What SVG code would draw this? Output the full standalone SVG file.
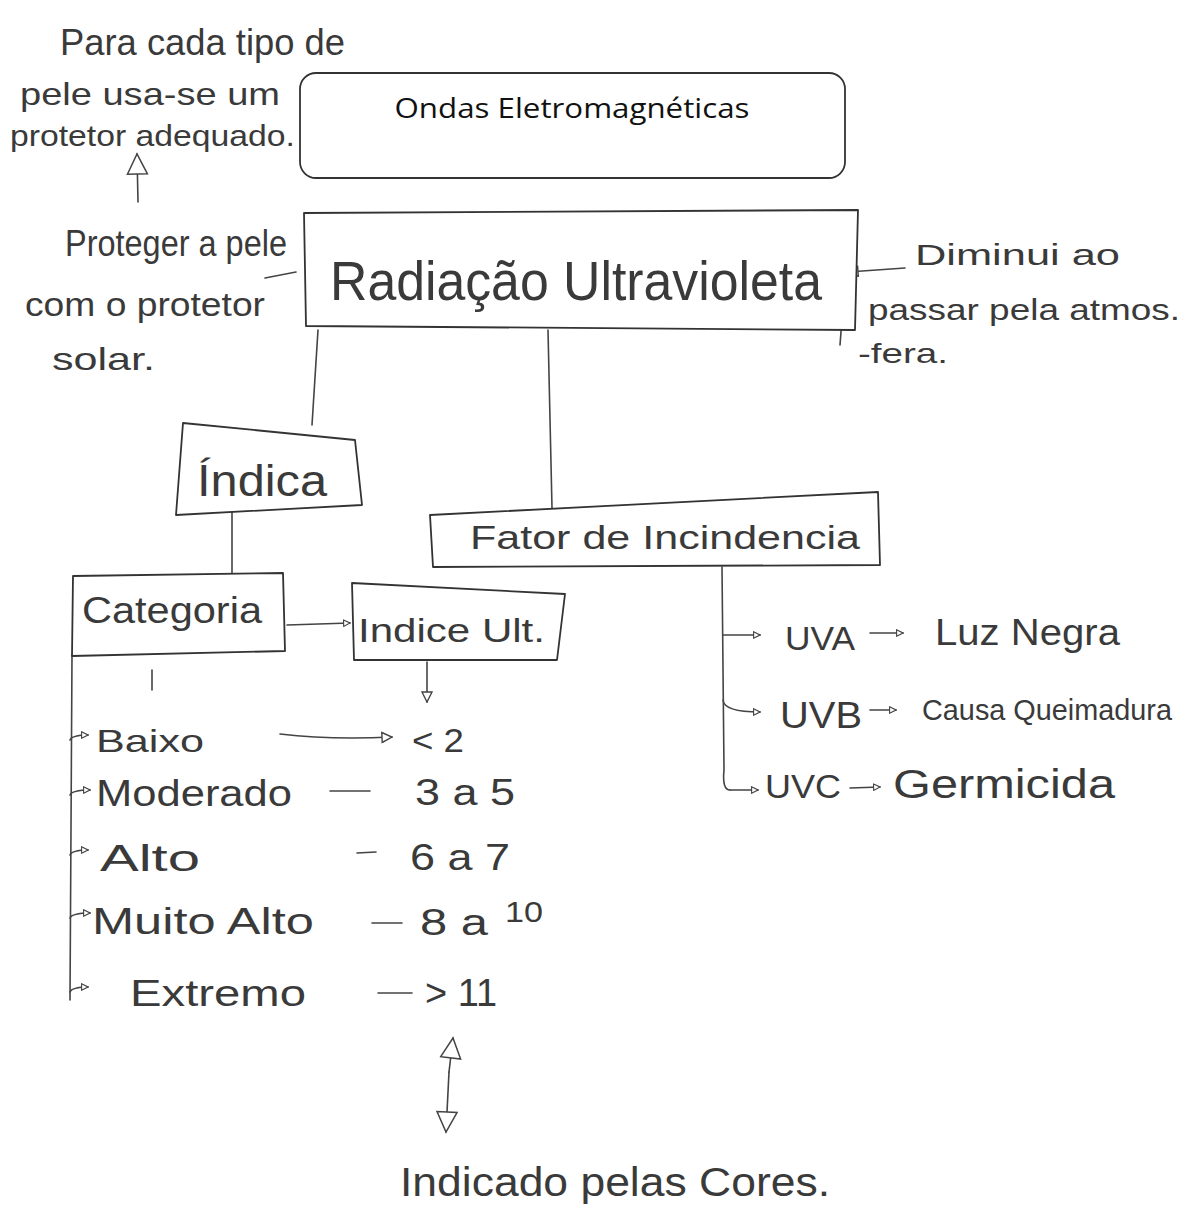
<svg xmlns="http://www.w3.org/2000/svg" width="1200" height="1215" viewBox="0 0 1200 1215">
<defs>
<style>
.hw{font-family:"Liberation Sans","DejaVu Sans",sans-serif;fill:#3a3a3a;}
.ty{font-family:"Open Sans","Liberation Sans",sans-serif;fill:#111;}
.ln{fill:none;stroke:#444;stroke-width:1.6;stroke-linecap:round;stroke-linejoin:round;}
.bx{fill:#fff;stroke:#333;stroke-width:1.8;stroke-linejoin:round;}
</style>
<marker id="tri" viewBox="0 0 12 12" refX="11" refY="6" markerWidth="12" markerHeight="12" markerUnits="userSpaceOnUse" orient="auto">
<path d="M1,1 L11,6 L1,11 Z" fill="#fff" stroke="#444" stroke-width="1.4"/>
</marker>
<marker id="sm" viewBox="0 0 10 10" refX="9" refY="5" markerWidth="8" markerHeight="8" markerUnits="userSpaceOnUse" orient="auto">
<path d="M1,1 L9,5 L1,9 Z" fill="#fff" stroke="#444" stroke-width="1.4"/>
</marker>
<marker id="big" viewBox="0 0 24 24" refX="22" refY="12" markerWidth="24" markerHeight="24" markerUnits="userSpaceOnUse" orient="auto">
<path d="M2,2 L22,12 L2,22 Z" fill="#fff" stroke="#444" stroke-width="1.5"/>
</marker>
</defs>
<rect width="1200" height="1215" fill="#fff"/>

<g id="connectors">
<path class="ln" d="M138,202 L137,154" marker-end="url(#big)"/>
<path class="ln" d="M265,278 L296,272"/>
<path class="ln" d="M905,268 L848,272" marker-end="url(#tri)"/>
<path class="ln" d="M848,240 L840,345"/>
<path class="ln" d="M318,330 L312,425"/>
<path class="ln" d="M548,330 L552,508"/>
<path class="ln" d="M232,512 L232,574"/>
<path class="ln" d="M287,625 L350,623" marker-end="url(#sm)"/>
<path class="ln" d="M152,670 L152,690"/>
<path class="ln" d="M427,662 L427,702" marker-end="url(#tri)"/>
<path class="ln" d="M72,655 L70,1000"/>
<path class="ln" d="M70,740 Q72,735 88,735" marker-end="url(#sm)"/>
<path class="ln" d="M70,795 Q72,790 90,790" marker-end="url(#sm)"/>
<path class="ln" d="M70,855 Q72,850 88,850" marker-end="url(#sm)"/>
<path class="ln" d="M70,918 Q72,913 90,913" marker-end="url(#sm)"/>
<path class="ln" d="M70,992 Q72,987 88,987" marker-end="url(#sm)"/>
<path class="ln" d="M280,734 Q330,740 392,737" marker-end="url(#tri)"/>
<path class="ln" d="M330,791 L370,791"/>
<path class="ln" d="M357,853 L376,852"/>
<path class="ln" d="M372,923 L402,923"/>
<path class="ln" d="M378,993 L412,993"/>
<path class="ln" d="M449,1072 L453,1038" marker-end="url(#big)"/>
<path class="ln" d="M449,1072 L446,1132" marker-end="url(#big)"/>
<path class="ln" d="M722,567 L724,770 Q722,790 730,790"/>
<path class="ln" d="M723,635 L760,635" marker-end="url(#sm)"/>
<path class="ln" d="M723,700 Q724,712 760,712" marker-end="url(#sm)"/>
<path class="ln" d="M730,790 L758,790" marker-end="url(#sm)"/>
<path class="ln" d="M870,633 L903,633" marker-end="url(#sm)"/>
<path class="ln" d="M870,710 L896,710" marker-end="url(#sm)"/>
<path class="ln" d="M850,788 L880,787" marker-end="url(#sm)"/>
</g>

<g id="note-protetor">
<text class="hw" x="60" y="55" font-size="36" textLength="285" lengthAdjust="spacingAndGlyphs">Para cada tipo de</text>
<text class="hw" x="20" y="105" font-size="32" textLength="260" lengthAdjust="spacingAndGlyphs">pele usa-se um</text>
<text class="hw" x="10" y="146" font-size="30" textLength="285" lengthAdjust="spacingAndGlyphs">protetor adequado.</text>
</g>

<g id="note-proteger">
<text class="hw" x="65" y="256" font-size="36" textLength="222" lengthAdjust="spacingAndGlyphs">Proteger a pele</text>
<text class="hw" x="25" y="316" font-size="34" textLength="240" lengthAdjust="spacingAndGlyphs">com o protetor</text>
<text class="hw" x="52" y="370" font-size="32" textLength="103" lengthAdjust="spacingAndGlyphs">solar.</text>
</g>

<g id="ondas">
<rect class="bx" x="300" y="73" width="545" height="105" rx="16"/>
<text class="ty" x="572" y="118" font-size="28" text-anchor="middle" textLength="355" lengthAdjust="spacingAndGlyphs">Ondas Eletromagnéticas</text>
</g>

<g id="radiacao">
<path class="bx" d="M304,213 L858,210 L855,330 L306,326 Z"/>
<text class="hw" x="330" y="300" font-size="56" textLength="492" lengthAdjust="spacingAndGlyphs">Radiação Ultravioleta</text>
</g>

<g id="note-diminui">
<text class="hw" x="915" y="265" font-size="30" textLength="205" lengthAdjust="spacingAndGlyphs">Diminui ao</text>
<text class="hw" x="868" y="320" font-size="30" textLength="312" lengthAdjust="spacingAndGlyphs">passar pela atmos.</text>
<text class="hw" x="858" y="363" font-size="28" textLength="90" lengthAdjust="spacingAndGlyphs">-fera.</text>
</g>

<g id="indica">
<path class="bx" d="M183,423 L355,440 L362,505 L176,515 Z"/>
<text class="hw" x="197" y="496" font-size="44" textLength="130" lengthAdjust="spacingAndGlyphs">Índica</text>
</g>

<g id="fator">
<path class="bx" d="M430,515 L878,492 L880,565 L433,567 Z"/>
<text class="hw" x="470" y="549" font-size="34" textLength="390" lengthAdjust="spacingAndGlyphs">Fator de Incindencia</text>
</g>

<g id="categoria">
<path class="bx" d="M73,576 L283,573 L285,651 L72,656 Z"/>
<text class="hw" x="82" y="623" font-size="36" textLength="180" lengthAdjust="spacingAndGlyphs">Categoria</text>
</g>

<g id="indice">
<path class="bx" d="M352,583 L565,594 L557,660 L354,660 Z"/>
<text class="hw" x="358" y="642" font-size="34" textLength="187" lengthAdjust="spacingAndGlyphs">Indice Ult.</text>
</g>

<g id="niveis">
<text class="hw" x="96" y="752" font-size="32" textLength="108" lengthAdjust="spacingAndGlyphs">Baixo</text>
<text class="hw" x="96" y="806" font-size="36" textLength="196" lengthAdjust="spacingAndGlyphs">Moderado</text>
<text class="hw" x="100" y="871" font-size="36" textLength="100" lengthAdjust="spacingAndGlyphs">Alto</text>
<text class="hw" x="92" y="934" font-size="36" textLength="222" lengthAdjust="spacingAndGlyphs">Muito Alto</text>
<text class="hw" x="130" y="1006" font-size="36" textLength="176" lengthAdjust="spacingAndGlyphs">Extremo</text>
</g>

<g id="valores">
<text class="hw" x="412" y="752" font-size="34" textLength="52" lengthAdjust="spacingAndGlyphs">&lt; 2</text>
<text class="hw" x="415" y="805" font-size="36" textLength="100" lengthAdjust="spacingAndGlyphs">3 a 5</text>
<text class="hw" x="410" y="870" font-size="36" textLength="100" lengthAdjust="spacingAndGlyphs">6 a 7</text>
<text class="hw" x="420" y="935" font-size="36" textLength="68" lengthAdjust="spacingAndGlyphs">8 a</text>
<text class="hw" x="505" y="922" font-size="30" textLength="38" lengthAdjust="spacingAndGlyphs">10</text>
<text class="hw" x="425" y="1006" font-size="38" textLength="72" lengthAdjust="spacingAndGlyphs">&gt; 11</text>
</g>

<g id="cores">
<text class="hw" x="400" y="1196" font-size="40" textLength="430" lengthAdjust="spacingAndGlyphs">Indicado pelas Cores.</text>
</g>

<g id="uva">
<text class="hw" x="785" y="650" font-size="34" textLength="70" lengthAdjust="spacingAndGlyphs">UVA</text>
<text class="hw" x="935" y="645" font-size="36" textLength="185" lengthAdjust="spacingAndGlyphs">Luz Negra</text>
</g>
<g id="uvb">
<text class="hw" x="780" y="728" font-size="36" textLength="82" lengthAdjust="spacingAndGlyphs">UVB</text>
<text class="hw" x="922" y="720" font-size="30" textLength="250" lengthAdjust="spacingAndGlyphs">Causa Queimadura</text>
</g>
<g id="uvc">
<text class="hw" x="765" y="798" font-size="34" textLength="76" lengthAdjust="spacingAndGlyphs">UVC</text>
<text class="hw" x="893" y="798" font-size="40" textLength="222" lengthAdjust="spacingAndGlyphs">Germicida</text>
</g>
</svg>
